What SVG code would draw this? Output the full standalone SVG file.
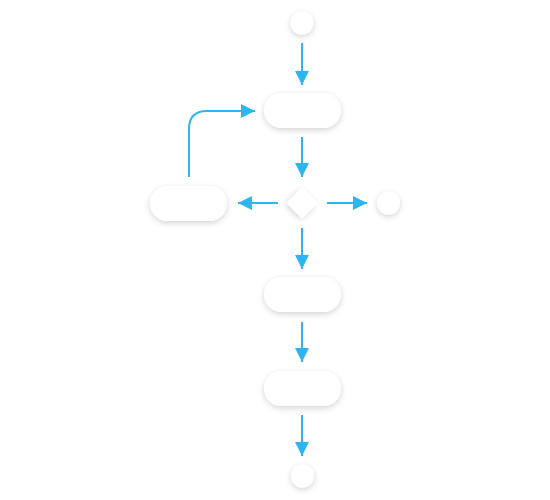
<svg xmlns="http://www.w3.org/2000/svg" width="550" height="500" viewBox="0 0 550 500">
<defs>
<filter id="sh" x="-50%" y="-50%" width="200%" height="200%">
<feGaussianBlur in="SourceAlpha" stdDeviation="3"/>
<feOffset dx="0" dy="2" result="b"/>
<feComponentTransfer><feFuncA type="linear" slope="0.18"/></feComponentTransfer>
<feMerge><feMergeNode/><feMergeNode in="SourceGraphic"/></feMerge>
</filter>
<marker id="ah" markerWidth="14" markerHeight="14" viewBox="0 0 14 14" refX="14" refY="7" orient="auto" markerUnits="userSpaceOnUse">
<path d="M0,0 L14,7 L0,14 Z" fill="#2CB5EE"/>
</marker>
</defs>
<style>
.n{fill:#ffffff;filter:url(#sh)}
.c{fill:none;stroke:#2CB5EE;stroke-width:2;marker-end:url(#ah)}
</style>
<rect width="550" height="500" fill="#ffffff"/>
<g id="start"><circle class="n" cx="302" cy="23" r="11.5"/></g>
<g id="node1"><rect class="n" x="264" y="93" width="77" height="35" rx="17.5"/></g>
<g id="decision"><rect class="n" x="291" y="192" width="22" height="22" rx="3" transform="rotate(45 302 203)"/></g>
<g id="node-left"><rect class="n" x="150" y="186" width="77" height="35" rx="17.5"/></g>
<g id="end-right"><circle class="n" cx="388.5" cy="203" r="11.5"/></g>
<g id="node3"><rect class="n" x="264" y="277" width="77" height="35" rx="17.5"/></g>
<g id="node4"><rect class="n" x="264" y="371" width="77" height="35" rx="17.5"/></g>
<g id="end"><circle class="n" cx="302.5" cy="476" r="11.5"/></g>
<g id="connectors">
<line class="c" x1="302" y1="43" x2="302" y2="85"/>
<line class="c" x1="302" y1="137" x2="302" y2="177"/>
<line class="c" x1="278" y1="203" x2="238" y2="203"/>
<line class="c" x1="327" y1="203" x2="367" y2="203"/>
<line class="c" x1="302" y1="228" x2="302" y2="269"/>
<line class="c" x1="302" y1="322" x2="302" y2="362"/>
<line class="c" x1="302" y1="415" x2="302" y2="456"/>
<path class="c" d="M189,177 L189,129 Q189,111 207,111 L255,111"/>
</g>
</svg>
